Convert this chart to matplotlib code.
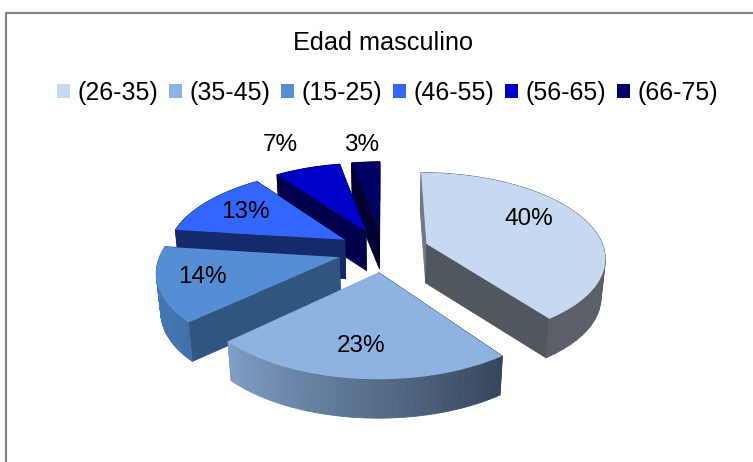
import numpy as np
import matplotlib
matplotlib.use("Agg")
import matplotlib.pyplot as plt
from matplotlib.transforms import Transform
from matplotlib.colors import to_rgb

plt.rcParams['font.family'] = ['Liberation Sans', 'DejaVu Sans']

TITLE = "Edad masculino"
categories = ["(26-35)", "(35-45)", "(15-25)", "(46-55)", "(56-65)", "(66-75)"]
values = [40, 23, 14, 13, 7, 3]
top_colors = ["#c6d9f1", "#8db3e2", "#558ed5", "#3366ff", "#0000c8", "#000066"]
# colours of the extruded side: arc start, arc end, radial face at start, radial face at end
arc_from = ["#5b6068", "#36465c", "#3f70aa", "#16296a", "#00004d", "#00003a"]
arc_to = ["#5b6068", "#809fc6", "#4c80c2", "#16296a", "#00004d", "#00003a"]
face_start = ["#6f7888", "#36465c", "#2f5580", "#16296a", "#00004d", "#000033"]
face_end = ["#50575f", "#7d9cc2", "#16296a", "#00004d", "#00004d", "#000033"]
draw_order = [5, 4, 3, 2, 0, 1]
label_pos = [(529, 219), (361, 346), (202, 277), (245, 212), (280, 145), (362, 145)]

EXPLODE = 0.257
CX, CY, FX, FY, K, DEPTH, SHRINK = 383.5, 250.5, 178, 83.6, 0.1466, 39, 0.02


def project(u, v, z=0.0):
    w = 1 + K * v
    x = CX + FX * u / w * (1 - SHRINK * z)
    y = CY - FY * v / w + DEPTH * z
    return x, y


class Perspective(Transform):
    input_dims = output_dims = 2
    is_separable = False
    has_inverse = False

    def transform_non_affine(self, values):
        values = np.asarray(values, dtype=float)
        x, y = project(values[:, 0], values[:, 1])
        return np.column_stack([x, y])


fig = plt.figure(figsize=(7.53, 4.62), dpi=100, facecolor="white")
ax = fig.add_axes([0, 0, 1, 1])

wedges, _, autotexts = ax.pie(
    values, explode=[EXPLODE] * len(values), colors=top_colors,
    startangle=90, counterclock=False, radius=1, frame=True,
    autopct=lambda p: f"{p:.0f}%", textprops={"fontsize": 17.5, "color": "black"},
    wedgeprops={"linewidth": 0},
)
ax.set_aspect("auto")
ax.set_xlim(0, 753)
ax.set_ylim(462, 0)
ax.axis("off")

persp = Perspective()
total = sum(values)
edges = np.cumsum([0] + values) / total * 2 * np.pi


def blend(a, b, t):
    a, b = np.array(to_rgb(a)), np.array(to_rgb(b))
    return tuple(a + (b - a) * t)


def quad(u0, v0, u1, v1, color, zorder):
    xa, ya = project(u0, v0)
    xb, yb = project(u1, v1)
    xc, yc = project(u1, v1, 1)
    xd, yd = project(u0, v0, 1)
    ax.fill([xa, xb, xc, xd], [ya, yb, yc, yd], color=color, lw=0.6, zorder=zorder)


for rank, i in enumerate(draw_order):
    a0, a1 = edges[i], edges[i + 1]
    mid = (a0 + a1) / 2
    ou, ov = EXPLODE * np.sin(mid), EXPLODE * np.cos(mid)
    base = 2 + rank * 2
    faces = []
    angs = np.linspace(a0, a1, 41)
    for j in range(len(angs) - 1):
        t = j / (len(angs) - 2)
        faces.append(((ou + np.sin(angs[j]), ov + np.cos(angs[j]),
                       ou + np.sin(angs[j + 1]), ov + np.cos(angs[j + 1])),
                      blend(arc_from[i], arc_to[i], t)))
    faces.append(((ou, ov, ou + np.sin(a0), ov + np.cos(a0)), face_start[i]))
    faces.append(((ou, ov, ou + np.sin(a1), ov + np.cos(a1)), face_end[i]))
    faces.sort(key=lambda f: -(f[0][1] + f[0][3]))
    for coords, color in faces:
        quad(*coords, color, base)
    wedges[i].set_transform(persp + ax.transData)
    wedges[i].set_zorder(base + 1)
    autotexts[i].set_position(label_pos[i])
    autotexts[i].set_ha("center")
    autotexts[i].set_va("center")
    autotexts[i].set_zorder(50)

ax.text(383.5, 43, TITLE, ha="center", va="center", fontsize=18.2, color="black")
ax.legend(wedges, categories, ncol=len(categories), loc="center",
          bbox_to_anchor=(387.5, 93), bbox_transform=ax.transData,
          frameon=False, fontsize=18, handlelength=0.52, handleheight=0.52,
          handletextpad=0.28, columnspacing=0.45, borderpad=0)

ax.plot([6, 6, 753], [462, 13, 13], color="#868686", lw=1.6, zorder=60, clip_on=False)

fig.savefig("out.png", dpi=100)
